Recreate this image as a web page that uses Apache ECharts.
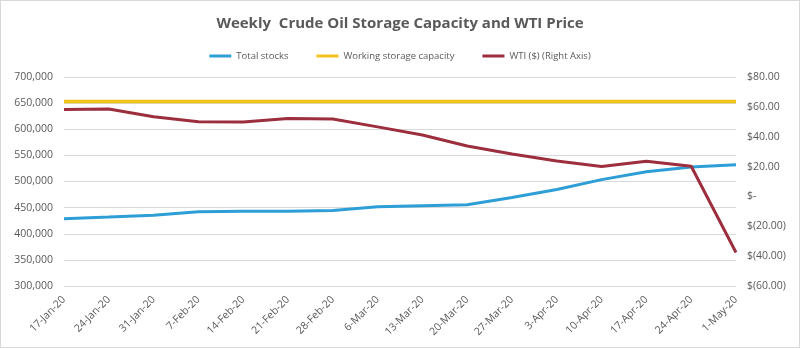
<!DOCTYPE html>
<html><head><meta charset="utf-8">
<script src="https://cdn.jsdelivr.net/npm/echarts@6/dist/echarts.min.js"></script>
<style>
html,body{margin:0;padding:0;background:#fff;}
#c{width:800px;height:348px;box-sizing:border-box;border:1px solid #d9d9d9;}
</style></head>
<body><div id="c"></div>
<script>
const categories = ['17-Jan-20','24-Jan-20','31-Jan-20','7-Feb-20','14-Feb-20','21-Feb-20','28-Feb-20','6-Mar-20','13-Mar-20','20-Mar-20','27-Mar-20','3-Apr-20','10-Apr-20','17-Apr-20','24-Apr-20','1-May-20'];
const totalStocks = [428500, 432000, 435600, 442300, 442900, 443300, 444400, 451800, 453700, 455400, 469200, 484600, 503600, 518600, 527600, 532200];
const workingCapacity = [653000, 653000, 653000, 653000, 653000, 653000, 653000, 653000, 653000, 653000, 653000, 653000, 653000, 653000, 653000, 653000];
const wti = [58.2, 58.6, 53.4, 50.1, 49.9, 52.2, 51.8, 46.6, 41.2, 33.8, 28.4, 23.8, 20.0, 23.6, 20.2, -37.6];
const leftTicks = [300000, 700000, 50000];
const rightTicks = [-60, 80, 20];

const chart = echarts.init(document.getElementById('c'), null, {renderer:'canvas'});
const txt = '#595959';
function fmtMoney(v){
  if (v === 0) return '$-';
  const s = Math.abs(v).toFixed(2);
  return v < 0 ? '$(' + s + ')' : '$' + s;
}
chart.setOption({
  animation:false,
  title:{text:'Weekly  Crude Oil Storage Capacity and WTI Price', left:'center', top:10,
    textStyle:{fontFamily:'Open Sans', fontSize:15, fontWeight:'bold', color:'#595959'}},
  legend:{top:45, left:'center', itemWidth:22, itemHeight:3, itemGap:28,
    icon:'rect',
    textStyle:{fontFamily:'Open Sans', fontSize:9.5, color:txt},
    data:['Total stocks','Working storage capacity','WTI ($) (Right Axis)']},
  grid:{left:63, right:63, top:76, bottom:61, containLabel:false},
  xAxis:{type:'category', data:categories, boundaryGap:false,
    axisLine:{show:false}, axisTick:{show:false},
    axisLabel:{rotate:45, interval:0, color:txt, fontFamily:'Open Sans', fontSize:10.5, margin:12}},
  yAxis:[
    {type:'value', min:leftTicks[0], max:leftTicks[1], interval:leftTicks[2],
      axisLine:{show:false}, axisTick:{show:false},
      splitLine:{lineStyle:{color:'#d9d9d9', width:1}},
      axisLabel:{color:txt, fontFamily:'Open Sans', fontSize:10.5, margin:11,
        formatter:v=>v.toLocaleString('en-US')}},
    {type:'value', min:rightTicks[0], max:rightTicks[1], interval:rightTicks[2],
      axisLine:{show:false}, axisTick:{show:false}, splitLine:{show:false},
      axisLabel:{color:txt, fontFamily:'Open Sans', fontSize:10.5, margin:11, formatter:fmtMoney}}
  ],
  series:[
    {name:'Total stocks', type:'line', data:totalStocks, yAxisIndex:0, symbol:'none',
      lineStyle:{color:'#2E9FD6', width:3}, itemStyle:{color:'#2E9FD6'}},
    {name:'Working storage capacity', type:'line', data:workingCapacity, yAxisIndex:0, symbol:'none',
      lineStyle:{color:'#F2C318', width:3.5}, itemStyle:{color:'#F2C318'}},
    {name:'WTI ($) (Right Axis)', type:'line', data:wti, yAxisIndex:1, symbol:'none',
      lineStyle:{color:'#9C2E3E', width:3}, itemStyle:{color:'#9C2E3E'}}
  ]
});
</script></body></html>
